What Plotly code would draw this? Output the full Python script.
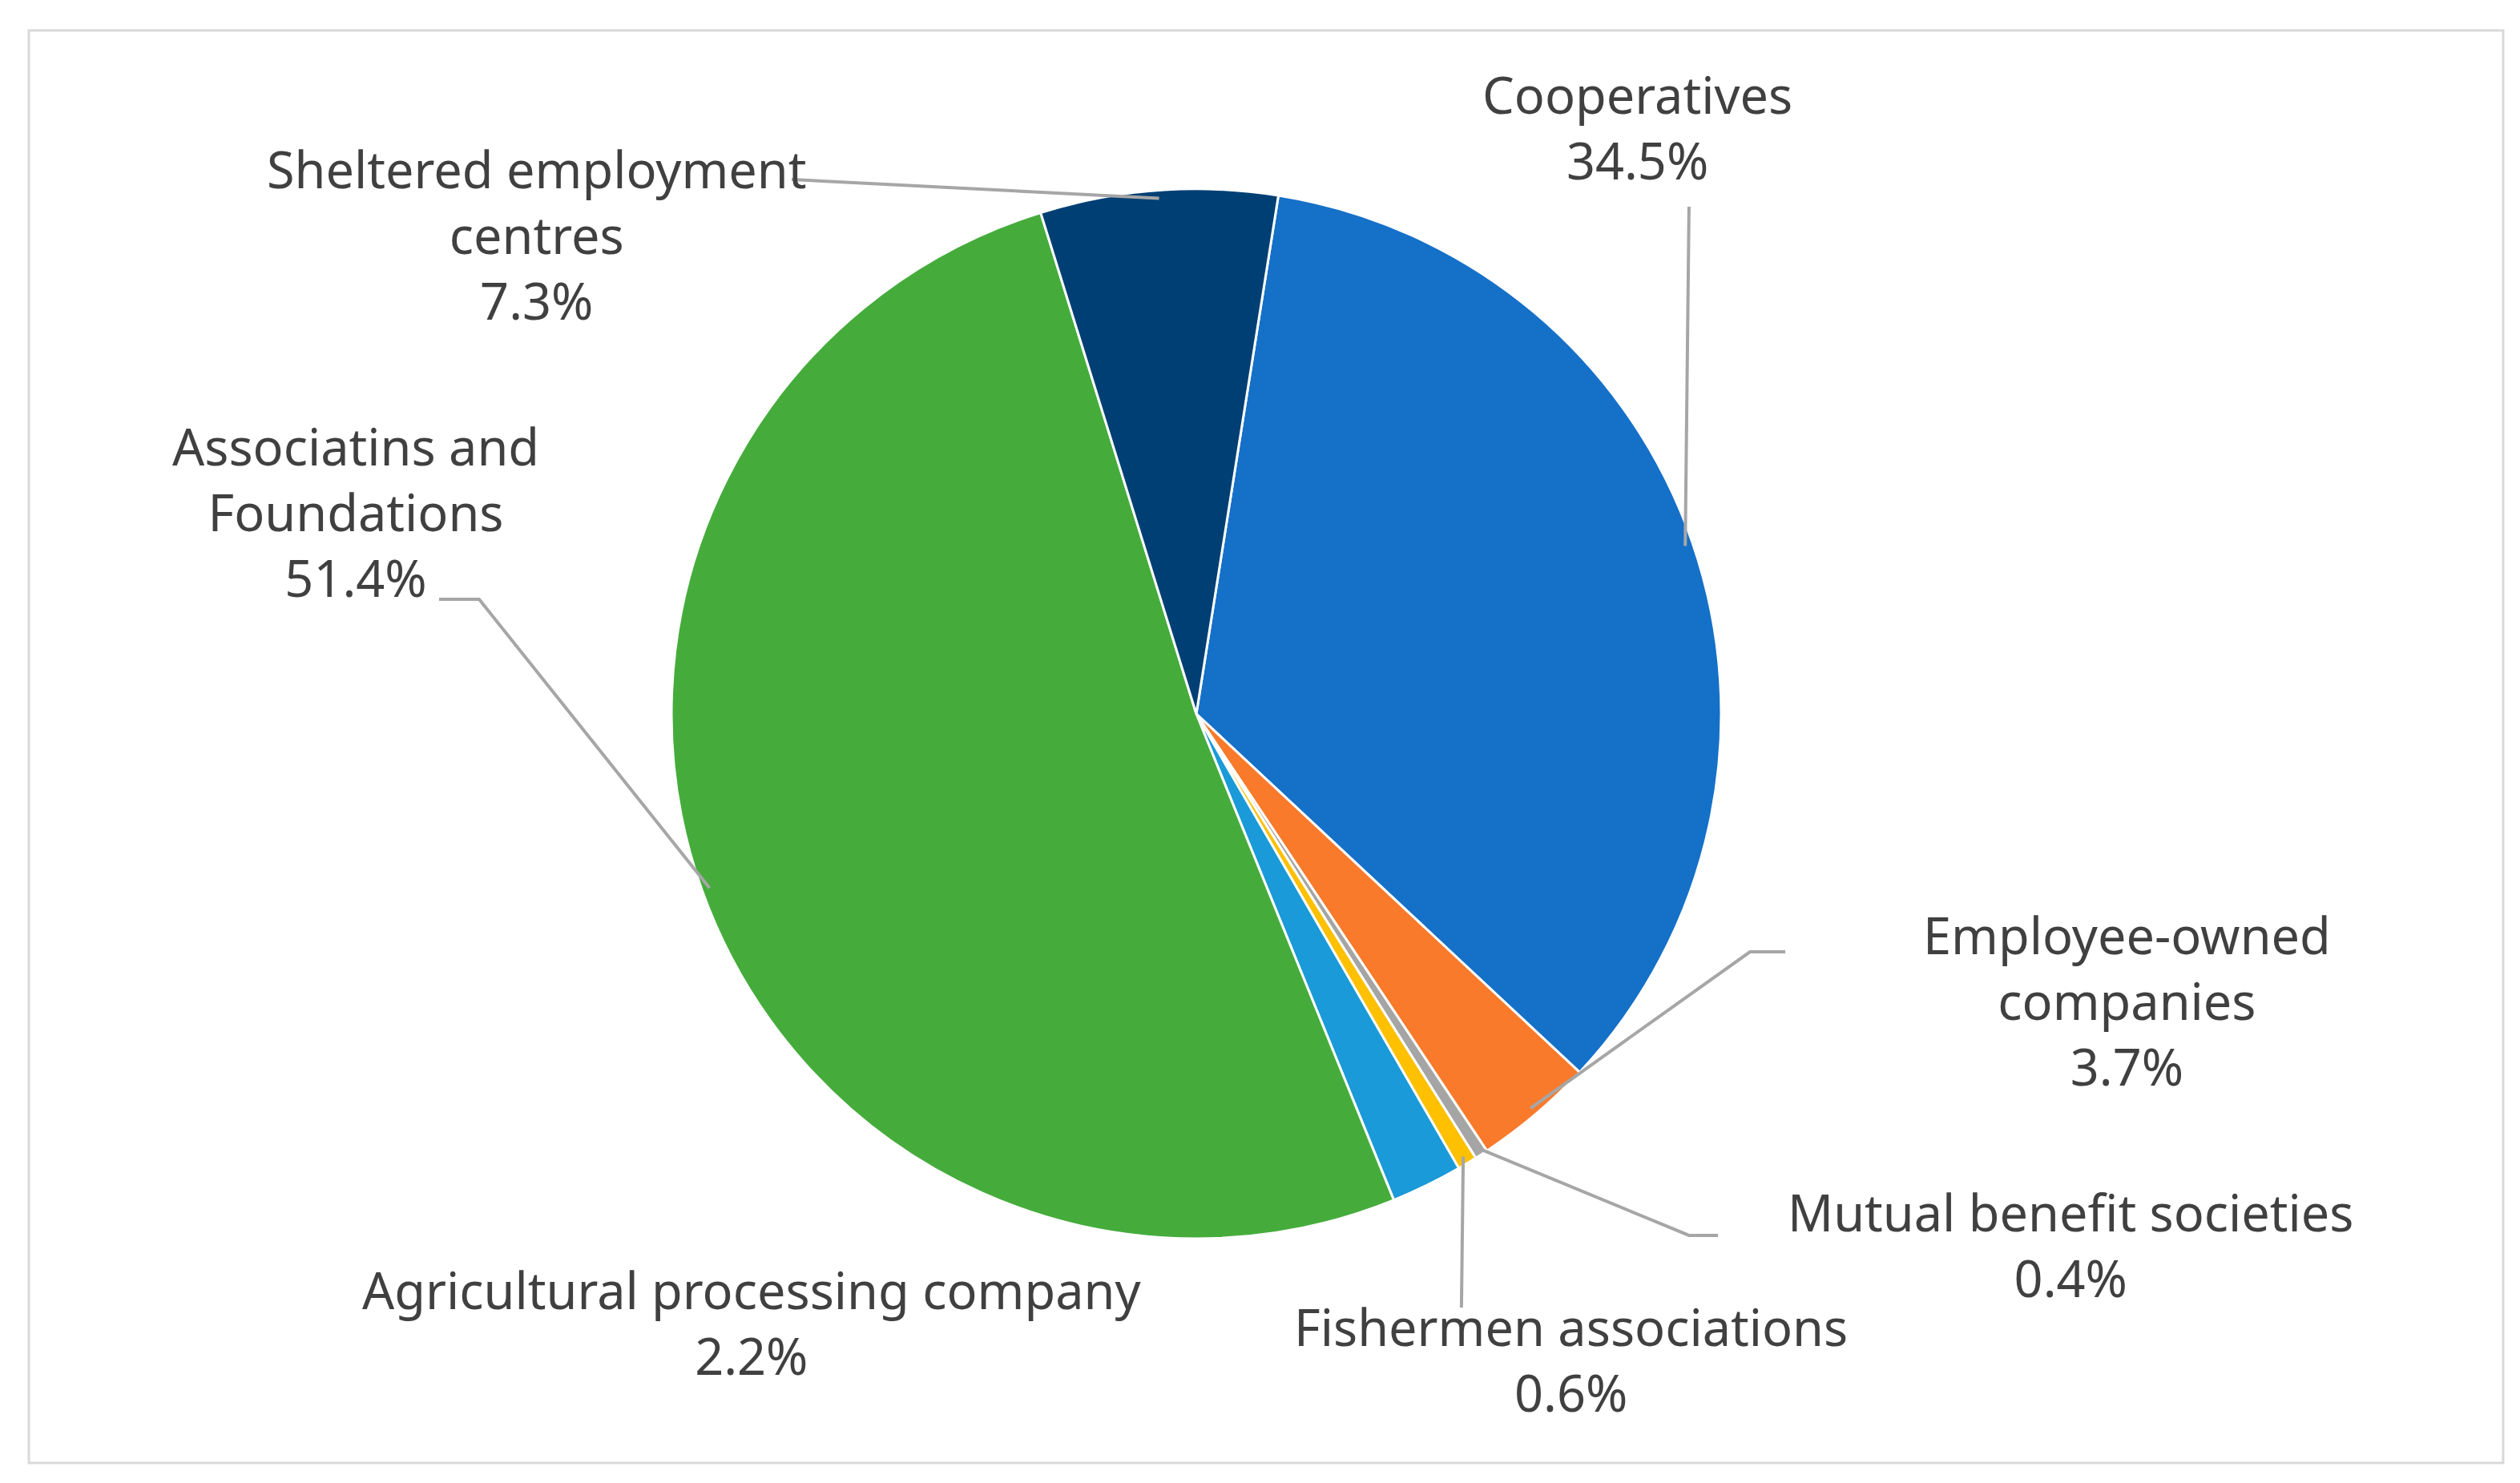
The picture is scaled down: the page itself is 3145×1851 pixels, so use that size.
import math
import plotly.graph_objects as go

W, H = 3145, 1851

categories = ["Cooperatives", "Employee-owned companies", "Mutual benefit societies",
              "Fishermen associations", "Agricultural processing company",
              "Associatins and Foundations", "Sheltered employment centres"]
values = [34.5, 3.7, 0.4, 0.6, 2.2, 51.4, 7.3]
label_text = ["Cooperatives<br>34.5%", "Employee-owned<br>companies<br>3.7%",
              "Mutual benefit societies<br>0.4%", "Fishermen associations<br>0.6%",
              "Agricultural processing company<br>2.2%", "Associatins and<br>Foundations<br>51.4%",
              "Sheltered employment<br>centres<br>7.3%"]
colors = ["#1570C8", "#F97A2A", "#A5A5A5", "#FFC000", "#1A9AD8", "#45AC3C", "#003F74"]

# layout (pixels)
cx, cy, R = 1485, 883, 655
rotation = 9
label_pos = [(2036, 150), (2646, 1240), (2576, 1545), (1952, 1688), (930, 1642), (436, 630), (662, 284)]
# elbow points of leader lines (None = no leader)
elbows = [[(2100, 250)], [(2220, 1180), (2176, 1180)], [(2136, 1534), (2100, 1534)],
          [(1816, 1624)], None, [(540, 740), (590, 740)], [(980, 216)]]

def px(x, y):
    return x / W, 1 - y / H

fig = go.Figure(go.Pie(
    labels=categories, values=values, sort=False, direction="clockwise",
    rotation=rotation, marker=dict(colors=colors, line=dict(color="white", width=3)),
    textinfo="none", hoverinfo="label+percent", showlegend=False,
    domain=dict(x=[(cx - R) / W, (cx + R) / W], y=[1 - (cy + R) / H, 1 - (cy - R) / H]),
))

total = sum(values)
cum = 0
shapes = []
for i, v in enumerate(values):
    mid = rotation + 360 * (cum + v / 2) / total
    cum += v
    a = math.radians(mid)
    ex, ey = cx + 0.985 * R * math.sin(a), cy - 0.985 * R * math.cos(a)
    lx, ly = label_pos[i]
    fig.add_annotation(x=lx / W, y=1 - ly / H, xref="paper", yref="paper", text=label_text[i],
                       showarrow=False, align="center", xanchor="center", yanchor="middle",
                       font=dict(family="Noto Sans", size=63, color="#404040"))
    if elbows[i]:
        pts = elbows[i] + [(ex, ey)]
        path = "M " + " L ".join("%.4f,%.4f" % px(x, y) for x, y in pts)
        shapes.append(dict(type="path", path=path, xref="paper", yref="paper",
                           line=dict(color="#A6A6A6", width=4)))

shapes.append(dict(type="rect", xref="paper", yref="paper", x0=28 / W, x1=3116 / W,
                   y0=1 - 1818 / H, y1=1 - 30 / H, line=dict(color="#D9D9D9", width=3)))

fig.update_layout(width=W, height=H, margin=dict(l=0, r=0, t=0, b=0),
                  paper_bgcolor="white", shapes=shapes)
fig.write_html("out.html")
